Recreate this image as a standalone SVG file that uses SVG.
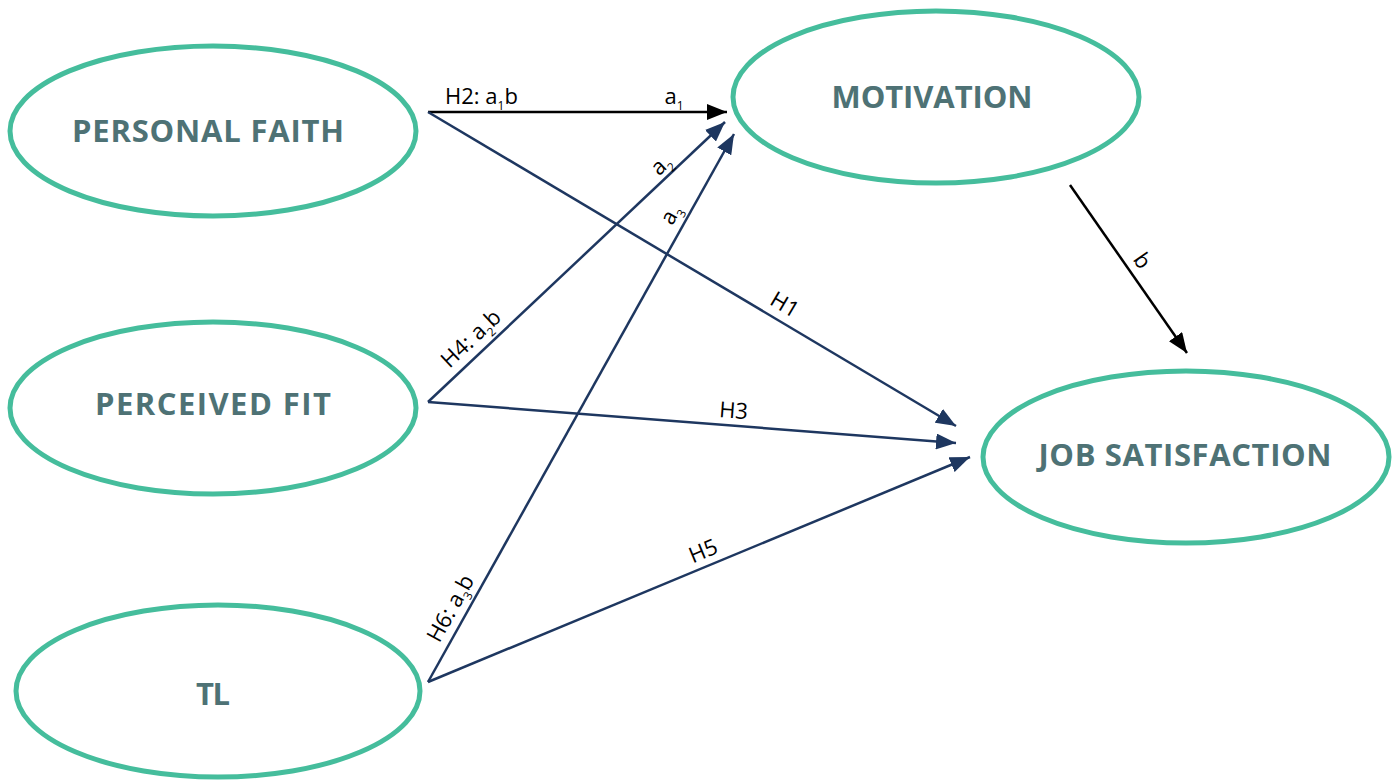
<svg xmlns="http://www.w3.org/2000/svg" width="1395" height="782" viewBox="0 0 1395 782">
<defs>
<style>
.node ellipse{fill:#ffffff;stroke:#45bd9c;stroke-width:5}
.node text{font-family:"Open Sans","Liberation Sans",sans-serif;font-weight:bold;font-size:31px;fill:#4e7275;text-anchor:middle}
.edge{fill:none;stroke-width:2.5}
.navy{stroke:#1e3760}
.blk{stroke:#000000}
.lbl{font-family:"Open Sans","Liberation Sans",sans-serif;font-size:22px;fill:#000000;text-anchor:middle}
.start{text-anchor:start}
.sub{font-size:12px}
</style>
<marker id="ahN" markerUnits="userSpaceOnUse" markerWidth="22" markerHeight="16" refX="20" refY="8" orient="auto"><path d="M0,0 L20,8 L0,16 Z" fill="#1e3760"/></marker>
<marker id="ahB" markerUnits="userSpaceOnUse" markerWidth="22" markerHeight="16" refX="20" refY="8" orient="auto"><path d="M0,0 L20,8 L0,16 Z" fill="#000000"/></marker>
</defs>
<rect width="1395" height="782" fill="#ffffff"/>
<g id="connectors">
<line class="edge blk" x1="428" y1="112" x2="727" y2="112" marker-end="url(#ahB)"/>
<line class="edge navy" x1="428" y1="112" x2="956" y2="426" marker-end="url(#ahN)"/>
<line class="edge navy" x1="428" y1="402" x2="725" y2="122" marker-end="url(#ahN)"/>
<line class="edge navy" x1="428" y1="402" x2="956" y2="443" marker-end="url(#ahN)"/>
<line class="edge navy" x1="428" y1="682" x2="734" y2="134" marker-end="url(#ahN)"/>
<line class="edge navy" x1="428" y1="682" x2="970" y2="457" marker-end="url(#ahN)"/>
<line class="edge blk" x1="1070" y1="185" x2="1187" y2="353" marker-end="url(#ahB)"/>
<text class="lbl start" x="445" y="104">H2: a<tspan class="sub" dy="6">1</tspan><tspan dy="-6">b</tspan></text>
<text class="lbl" x="674" y="104">a<tspan class="sub" dy="6">1</tspan></text>
<text class="lbl" transform="translate(781,311) rotate(30.7)">H1</text>
<text class="lbl" transform="translate(476,344) rotate(-43.3)">H4: a<tspan class="sub" dy="6">2</tspan><tspan dy="-6">b</tspan></text>
<text class="lbl" transform="translate(666,170) rotate(-43.3)">a<tspan class="sub" dy="6">2</tspan></text>
<text class="lbl" transform="translate(733,418) rotate(4.4)">H3</text>
<text class="lbl" transform="translate(457,612) rotate(-60.9)">H6: a<tspan class="sub" dy="6">3</tspan><tspan dy="-6">b</tspan></text>
<text class="lbl" transform="translate(677,218) rotate(-60.9)">a<tspan class="sub" dy="6">3</tspan></text>
<text class="lbl" transform="translate(706,558) rotate(-22.5)">H5</text>
<text class="lbl" transform="translate(1136,265) rotate(55.2)">b</text>
</g>
<g id="personal-faith" class="node"><ellipse cx="213" cy="131" rx="203" ry="85"/><text x="208" y="142" textLength="272" lengthAdjust="spacing">PERSONAL FAITH</text></g>
<g id="perceived-fit" class="node"><ellipse cx="213" cy="408" rx="203" ry="86"/><text x="213" y="415" textLength="236" lengthAdjust="spacing">PERCEIVED FIT</text></g>
<g id="tl" class="node"><ellipse cx="218" cy="691" rx="202" ry="86"/><text x="213" y="705" textLength="34" lengthAdjust="spacing">TL</text></g>
<g id="motivation" class="node"><ellipse cx="936" cy="97" rx="203" ry="86"/><text x="932" y="108" textLength="201" lengthAdjust="spacing">MOTIVATION</text></g>
<g id="job-satisfaction" class="node"><ellipse cx="1186" cy="457" rx="203" ry="86"/><text x="1185" y="466" textLength="293" lengthAdjust="spacing">JOB SATISFACTION</text></g>
</svg>
